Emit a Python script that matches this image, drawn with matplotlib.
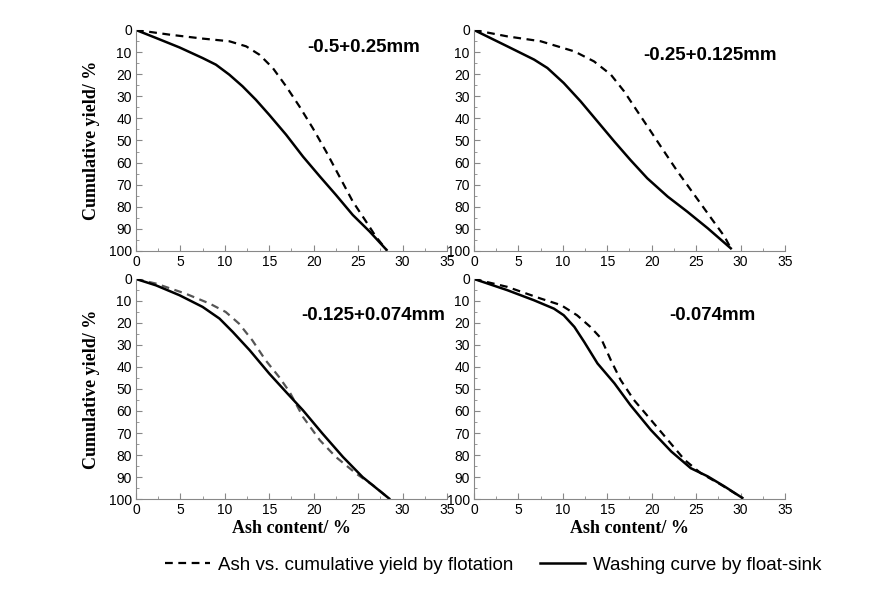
import matplotlib
matplotlib.use('Agg')
import matplotlib.pyplot as plt
from matplotlib.ticker import MultipleLocator

# 各粒级的灰分-累计产率数据
titles = ['-0.5+0.25mm', '-0.25+0.125mm', '-0.125+0.074mm', '-0.074mm']

# 浮选: 灰分 vs 累计产率 (虚线)
flot_ash = [
    [0, 3.75, 7.5, 10.5, 12.4, 13.9, 15.4, 16.9, 18.4, 19.9, 21.4, 22.9, 24.4, 25.9, 27.0, 28.2],
    [0, 3.75, 7.5, 11.3, 13.5, 15.4, 16.9, 18.4, 19.9, 21.4, 22.9, 24.8, 26.7, 28.2, 28.9],
    [0, 2.25, 5.6, 8.3, 10.1, 11.6, 13.1, 14.6, 16.1, 17.3, 18.8, 20.7, 22.5, 24.8, 26.7, 28.5],
    [0, 3.75, 7.5, 9.8, 11.6, 13.1, 14.3, 15.4, 16.5, 18.0, 19.9, 21.8, 23.7, 25.5, 27.8, 30.2],
]
flot_yield = [
    [0, 2.1, 3.9, 5.1, 7.4, 11.2, 17.2, 25.5, 34.6, 44.4, 55.0, 66.3, 77.6, 86.7, 93.5, 99.5],
    [0, 2.9, 5.1, 9.7, 14.2, 20.2, 27.8, 36.9, 45.9, 55.0, 64.0, 74.6, 85.2, 93.5, 98.8],
    [0, 2.1, 6.7, 11.2, 15.0, 20.3, 27.9, 37.0, 44.5, 51.4, 62.7, 73.3, 80.9, 88.5, 93.8, 99.8],
    [0, 3.6, 8.9, 11.9, 16.5, 21.8, 27.0, 36.9, 45.9, 55.0, 64.0, 73.1, 82.2, 88.2, 93.5, 99.5],
]

# 浮沉: 可选性曲线 (实线)
sink_ash = [
    [0, 2.25, 4.9, 7.5, 9.0, 10.5, 12.0, 13.5, 15.0, 16.9, 18.8, 20.7, 22.5, 24.4, 26.3, 28.2],
    [0, 3.75, 6.76, 8.26, 10.1, 12.0, 13.9, 15.8, 17.6, 19.5, 21.8, 24.0, 26.3, 28.9],
    [0, 2.25, 4.9, 7.5, 9.4, 10.9, 12.8, 15.0, 16.9, 18.8, 21.0, 23.3, 25.5, 28.5],
    [0, 3.75, 6.76, 9.0, 10.1, 11.3, 12.4, 13.9, 15.8, 17.6, 19.9, 22.2, 24.4, 26.3, 28.2, 30.2],
]
sink_yield = [
    [0, 3.6, 7.9, 12.7, 15.7, 20.2, 25.5, 31.6, 38.4, 47.4, 57.3, 66.3, 74.6, 83.7, 91.2, 99.5],
    [0, 7.4, 13.4, 17.2, 24.0, 32.3, 41.4, 50.5, 58.8, 67.1, 75.4, 82.2, 89.7, 98.8],
    [0, 2.9, 7.4, 12.7, 18.0, 24.1, 32.4, 43.0, 51.4, 59.7, 70.3, 80.9, 90.0, 99.8],
    [0, 5.1, 9.7, 13.5, 16.5, 21.8, 28.6, 38.4, 47.4, 57.3, 68.6, 78.4, 86.0, 89.7, 94.3, 99.5],
]

label_pos = [(25.6, 8), (26.6, 11.4), (26.7, 16.4), (26.8, 16.4)]
dash_colors = ['black', 'black', '#555555', 'black']

fig = plt.figure(figsize=(8.84, 5.90), dpi=100)
rects = [
    [0.1538, 0.5746, 0.3518, 0.3746],
    [0.5362, 0.5746, 0.3518, 0.3746],
    [0.1538, 0.1542, 0.3518, 0.3730],
    [0.5362, 0.1542, 0.3518, 0.3730],
]

tick_font = 'Liberation Sans'
for i, r in enumerate(rects):
    ax = fig.add_axes(r)
    l1, = ax.plot(flot_ash[i], flot_yield[i], color=dash_colors[i], ls=(0, (3.5, 2.5)), lw=1.6)
    l2, = ax.plot(sink_ash[i], sink_yield[i], color='black', ls='-', lw=1.8)
    ax.set_xlim(0, 35)
    ax.set_ylim(100, 0)
    ax.xaxis.set_major_locator(MultipleLocator(5))
    ax.xaxis.set_minor_locator(MultipleLocator(2.5))
    ax.yaxis.set_major_locator(MultipleLocator(10))
    ax.yaxis.set_minor_locator(MultipleLocator(5))
    for s in ['top', 'right']:
        ax.spines[s].set_visible(False)
    for s in ['left', 'bottom']:
        ax.spines[s].set_color('#888888')
    ax.tick_params(which='both', direction='in', color='#888888', labelsize=10, pad=3)
    ax.tick_params(which='major', length=4)
    ax.tick_params(which='minor', length=2.5)
    for t in ax.get_xticklabels() + ax.get_yticklabels():
        t.set_fontfamily(tick_font)
    ax.text(label_pos[i][0], label_pos[i][1], titles[i], ha='center', va='center',
            fontsize=13.5, fontweight='bold', family=tick_font)
    if i % 2 == 0:
        ax.set_ylabel('Cumulative yield/ %', family='Liberation Serif', fontweight='bold',
                      fontsize=13, labelpad=6)
    if i >= 2:
        ax.set_xlabel('Ash content/ %', family='Liberation Serif', fontweight='bold',
                      fontsize=13, labelpad=2)

fig.legend([l1, l2], ['Ash vs. cumulative yield by flotation', 'Washing curve by float-sink'],
           loc='center', bbox_to_anchor=(0.558, 0.042), ncol=2, frameon=False,
           prop={'family': tick_font, 'size': 13.5}, handlelength=2.4,
           handletextpad=0.45, columnspacing=1.4)

fig.savefig('out.png', dpi=100)
